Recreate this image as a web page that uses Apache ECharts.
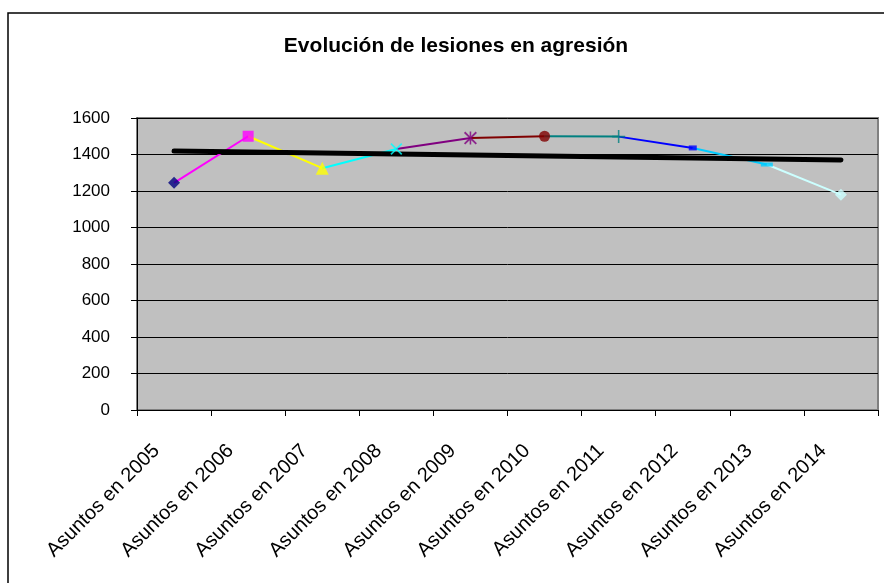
<!DOCTYPE html>
<html>
<head>
<meta charset="utf-8">
<script src="https://cdn.jsdelivr.net/npm/echarts@6/dist/echarts.min.js"></script>
<style>
  html, body { margin: 0; padding: 0; background: #ffffff; }
  #chart { width: 884px; height: 583px; }
</style>
</head>
<body>
<div id="chart"></div>
<script>
// Categories and yearly totals
const categories = ['Asuntos en 2005', 'Asuntos en 2006', 'Asuntos en 2007', 'Asuntos en 2008', 'Asuntos en 2009',
                    'Asuntos en 2010', 'Asuntos en 2011', 'Asuntos en 2012', 'Asuntos en 2013', 'Asuntos en 2014'];
const values = [1245, 1500, 1325, 1430, 1490, 1500, 1498, 1436, 1345, 1180];
const yTicks = [0, 200, 400, 600, 800, 1000, 1200, 1400, 1600];

// Per-point colours (each segment takes the colour of the point it ends on)
const pointColors = ['#000080', '#FF00FF', '#FFFF00', '#00FFFF', '#800080', '#800000', '#008080', '#0000FF', '#00CCFF', '#CCFFFF'];

// Marker shapes
const X_PATH = 'path://M0,1 L1,0 L5,4 L9,0 L10,1 L6,5 L10,9 L9,10 L5,6 L1,10 L0,9 L4,5 Z';
const STAR_PATH = 'path://M0,1 L1,0 L5,4 L9,0 L10,1 L6,5 L10,9 L9,10 L5,6 L1,10 L0,9 L4,5 Z M4.4,0 L5.6,0 L5.6,10 L4.4,10 Z';
const PLUS_PATH = 'path://M4.4,0 L5.6,0 L5.6,4.4 L10,4.4 L10,5.6 L5.6,5.6 L5.6,10 L4.4,10 L4.4,5.6 L0,5.6 L0,4.4 L4.4,4.4 Z';
const markerShapes = ['diamond', 'rect', 'triangle', X_PATH, STAR_PATH, 'circle', PLUS_PATH, 'rect', 'rect', 'diamond'];
const markerSizes = [12, 11, 13, 12, 13, 11, 13, [8, 5], [12, 4], 12];

// Linear least-squares trend over the category index
function linearTrend(ys) {
  const n = ys.length;
  let sx = 0, sy = 0, sxx = 0, sxy = 0;
  ys.forEach((y, i) => { const x = i + 1; sx += x; sy += y; sxx += x * x; sxy += x * y; });
  const b = (n * sxy - sx * sy) / (n * sxx - sx * sx);
  const a = (sy - b * sx) / n;
  return ys.map((_, i) => a + b * (i + 1));
}
const trend = linearTrend(values);

const FONT = 'Liberation Sans, Arial, sans-serif';

const series = [];
// Coloured segments between consecutive points
for (let i = 0; i < values.length - 1; i++) {
  series.push({
    type: 'line',
    data: values.map((v, j) => (j === i || j === i + 1) ? v : '-'),
    showSymbol: false,
    symbol: 'none',
    lineStyle: { color: pointColors[i + 1], width: 2 },
    z: 2,
    silent: true
  });
}
// Trend line
series.push({
  type: 'line',
  data: trend,
  symbol: 'none',
  lineStyle: { color: '#000000', width: 5, cap: 'round' },
  z: 3,
  silent: true
});
// Markers
series.push({
  type: 'scatter',
  data: values.map((v, i) => ({
    value: v,
    symbol: markerShapes[i],
    symbolSize: markerSizes[i],
    itemStyle: { color: pointColors[i] }
  })),
  z: 4,
  silent: true
});

const chart = echarts.init(document.getElementById('chart'), null, { renderer: 'canvas' });
chart.setOption({
  animation: false,
  backgroundColor: '#ffffff',
  title: {
    text: 'Evolución de lesiones en agresión',
    left: 451,
    top: 31,
    textAlign: 'center',
    textStyle: { fontFamily: FONT, fontSize: 21, fontWeight: 'bold', color: '#000000' }
  },
  graphic: [
    {
      type: 'rect',
      shape: { x: 8, y: 13, width: 900, height: 600 },
      style: { fill: 'none', stroke: '#000000', lineWidth: 1.5 },
      z: -10,
      silent: true
    }
  ],
  grid: {
    left: 137, right: 6, top: 118, bottom: 173,
    show: true,
    backgroundColor: '#C0C0C0',
    borderColor: '#808080',
    borderWidth: 2
  },
  xAxis: {
    type: 'category',
    data: categories,
    boundaryGap: true,
    axisLine: { show: true, lineStyle: { color: '#000000', width: 1 } },
    axisTick: { show: true, alignWithLabel: false, length: 6, lineStyle: { color: '#000000' } },
    axisLabel: {
      interval: 0,
      rotate: 45,
      margin: 20,
      padding: [0, 25, 0, 0],
      fontFamily: FONT,
      fontSize: 20,
      color: '#000000'
    },
    splitLine: { show: false }
  },
  yAxis: {
    type: 'value',
    min: yTicks[0],
    max: yTicks[yTicks.length - 1],
    interval: 200,
    axisLine: { show: true, lineStyle: { color: '#000000', width: 1 } },
    axisTick: { show: true, length: 6, lineStyle: { color: '#000000' } },
    axisLabel: {
      fontFamily: FONT, fontSize: 17, color: '#000000', margin: 27,
      formatter: v => String(v)
    },
    splitLine: { show: true, lineStyle: { color: '#000000', width: 1 } }
  },
  series: series
});
</script>
</body>
</html>
